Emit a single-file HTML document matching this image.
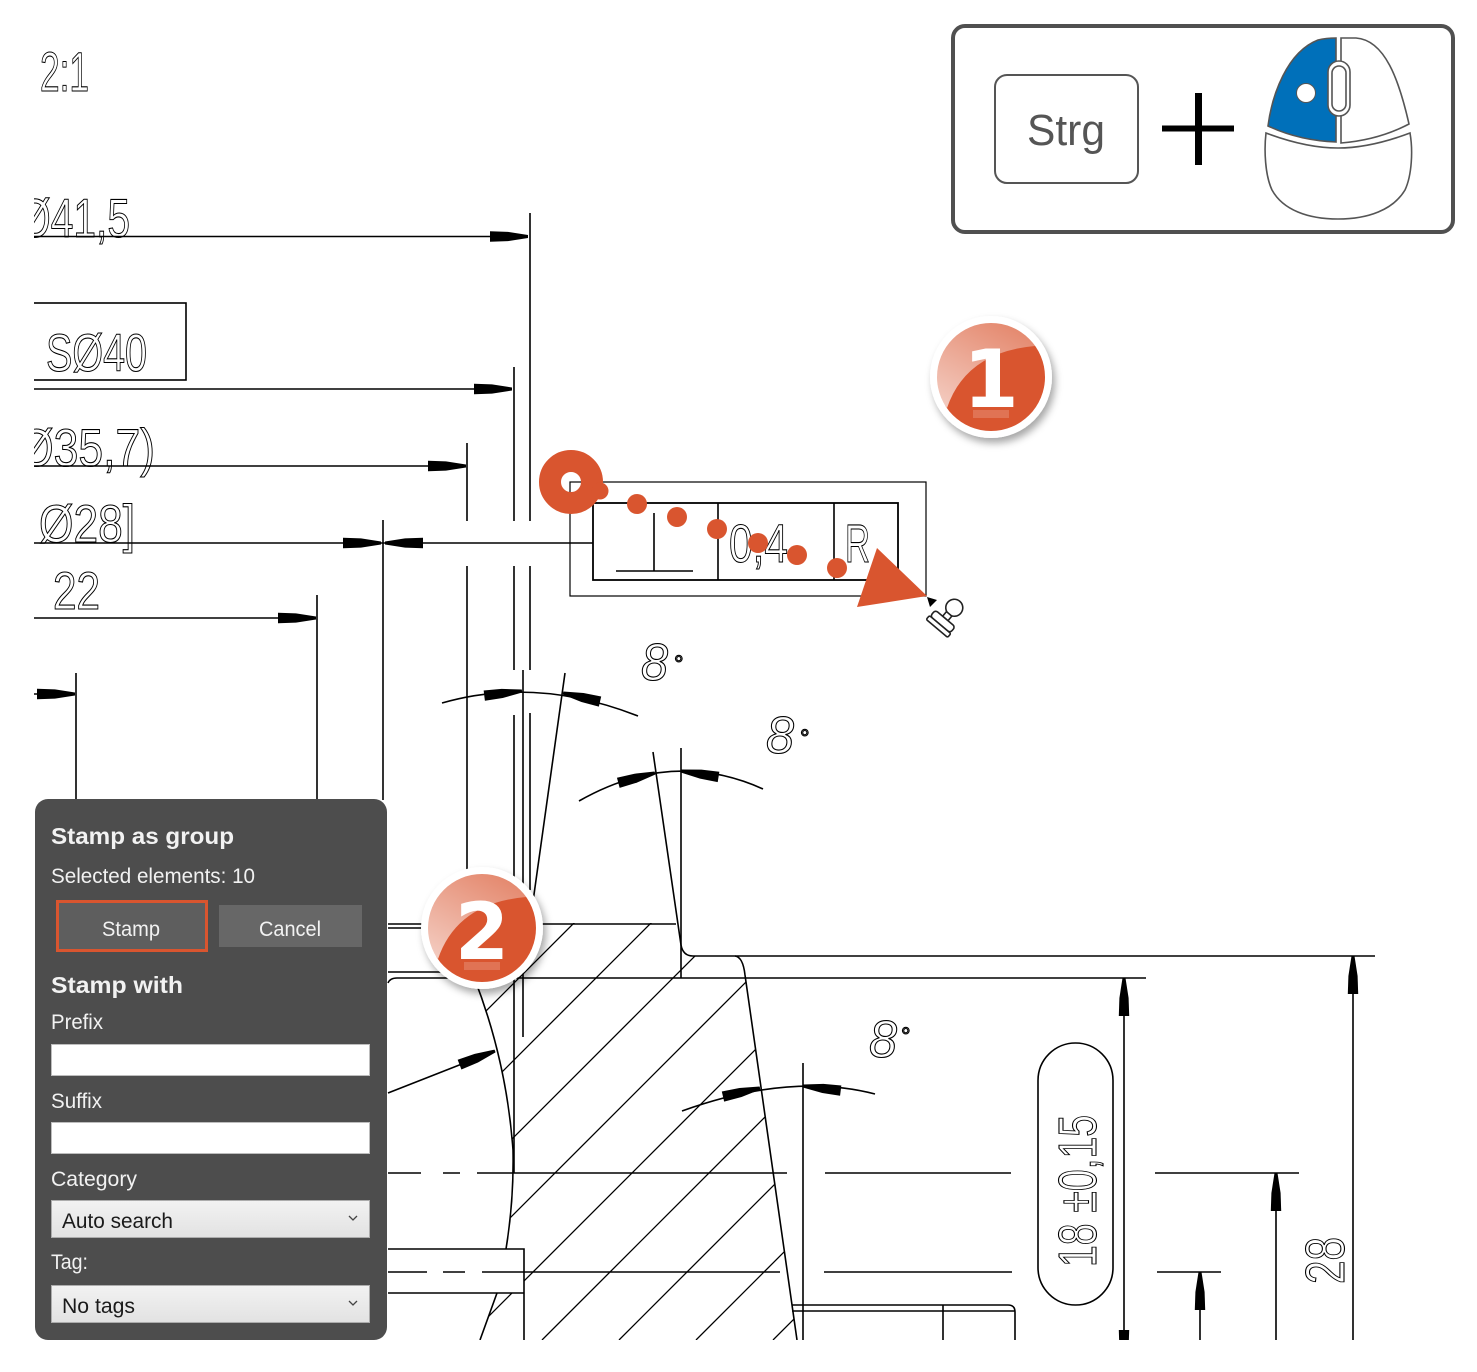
<!DOCTYPE html>
<html><head><meta charset="utf-8">
<style>
html,body{margin:0;padding:0;background:#fff;}
svg{display:block;}
.cad{font-family:"Liberation Sans Narrow","Liberation Sans",sans-serif;fill:none;stroke:#000;stroke-width:1.1;}
.ui{font-family:"Liberation Sans",sans-serif;fill:#f2f2f2;}
.dd{font-family:"Liberation Sans",sans-serif;fill:#1a1a1a;}
</style></head><body>
<svg width="1477" height="1372" viewBox="0 0 1477 1372" xmlns="http://www.w3.org/2000/svg">
<defs>
<polygon id="ah" points="0,-1.5 0,1.5 -20,4.6 -38,5.2 -38,-5.2 -20,-4.6" fill="#000"/>
<clipPath id="dc"><rect x="34" y="0" width="1443" height="1340"/></clipPath>
<clipPath id="hc"><path d="M452,923 L676,923 L681,945 Q683,956 693,956 L740,956 L745,978 L797,1340 L480,1340 L497,1293 L524,1293 L524,1249 L506,1249 Q514,1200 513,1150 Q505,1040 458,940 Z"/></clipPath>
<filter id="sh" x="-40%" y="-40%" width="180%" height="180%"><feDropShadow dx="3" dy="5" stdDeviation="4" flood-color="#000" flood-opacity="0.35"/></filter>
<linearGradient id="gl" x1="0.7" y1="0" x2="0.1" y2="1"><stop offset="0" stop-color="#fff" stop-opacity="0.3"/><stop offset="1" stop-color="#fff" stop-opacity="0.7"/></linearGradient>
<linearGradient id="ddg" x1="0" y1="0" x2="0" y2="1"><stop offset="0" stop-color="#f2f2f2"/><stop offset="1" stop-color="#e2e2e2"/></linearGradient>
</defs>

<g clip-path="url(#dc)">
<g clip-path="url(#hc)" stroke="#000" stroke-width="1.3" fill="none">
<path d="M80,1340L520,900 M157,1340L597,900 M234,1340L674,900 M311,1340L751,900 M388,1340L828,900 M465,1340L905,900 M542,1340L982,900 M619,1340L1059,900 M696,1340L1136,900 M773,1340L1213,900"/>
</g>
<g stroke="#000" stroke-width="1.6" fill="none">
<path d="M30,236.5H528 M530,213V521 M530,566V670 M530,713V890"/>
<path d="M30,389H512 M514,367V521 M514,566V670 M514,715V1173"/>
<path d="M30,466H466 M467,443V521 M467,566V880"/>
<path d="M30,543H593"/>
<path d="M383,520V800"/>
<path d="M30,618H316 M317,595V800"/>
<path d="M30,694H75 M76,673V800"/>
<path d="M523,670V1037"/>
<rect x="30" y="303" width="156" height="77"/>
<path d="M442,703 Q536,676 638,716"/>
<path d="M565,673 L530,923"/>
<path d="M579,801 Q672,748 763,789"/>
<path d="M653,752 L681,945 Q683,956 693,956 H1375"/>
<path d="M681,748V978"/>
<path d="M682,1111 Q790,1072 875,1094"/>
<path d="M388,924H676 M388,928H450 M388,972H445 M388,983 Q390,978 397,978 H1146"/>
<path d="M735,956 Q743,957 745,975 L797,1340"/>
<path d="M458,940 Q505,1040 513,1150 Q514,1200 506,1249 M497,1293 L480,1340"/>
<path d="M388,1093 L495,1051"/>
<path d="M388,1173H421 M443,1173H460 M477,1173H787 M825,1173H1011 M1155,1173H1299"/>
<path d="M388,1272H427 M443,1272H465 M482,1272H780 M824,1272H1012 M1157,1272H1221"/>
<path d="M388,1249H524V1340 M388,1293H524"/>
<path d="M1124,978V1340 M1353,956V1340 M1276,1173V1340 M1200,1272V1340 M803,1063V1340"/>
<path d="M792,1305H1008 Q1015,1305 1015,1312 V1340 M792,1311H1015 M943,1305V1340"/>
<rect x="1038" y="1043" width="75" height="262" rx="37.5"/>
<rect x="570" y="482" width="356" height="114" stroke-width="1.2"/>
<rect x="593" y="503" width="305" height="77" stroke-width="1.8"/>
<path d="M718,503V580 M834,503V580"/>
<path d="M616,571H693 M654,513V571"/>
</g>
<use href="#ah" transform="translate(528,236.5)"/>
<use href="#ah" transform="translate(512,389)"/>
<use href="#ah" transform="translate(466,466)"/>
<use href="#ah" transform="translate(381,543)"/>
<use href="#ah" transform="translate(385,543) rotate(180)"/>
<use href="#ah" transform="translate(316,618)"/>
<use href="#ah" transform="translate(75,694)"/>
<use href="#ah" transform="translate(522,691) rotate(-7)"/>
<use href="#ah" transform="translate(563,693) rotate(193)"/>
<use href="#ah" transform="translate(655,773) rotate(-15)"/>
<use href="#ah" transform="translate(681,771) rotate(189)"/>
<use href="#ah" transform="translate(760,1088) rotate(-13)"/>
<use href="#ah" transform="translate(803,1086) rotate(187)"/>
<use href="#ah" transform="translate(495,1051) rotate(-21)"/>
<use href="#ah" transform="translate(1124,978) rotate(-90)"/>
<use href="#ah" transform="translate(1353,956) rotate(-90)"/>
<use href="#ah" transform="translate(1276,1173) rotate(-90)"/>
<use href="#ah" transform="translate(1200,1272) rotate(-90)"/>
<use href="#ah" transform="translate(1124,1368) rotate(90)"/>

<text class="cad" x="40" y="91" font-size="56" textLength="49" lengthAdjust="spacingAndGlyphs">2:1</text>
<text class="cad" x="19" y="237" font-size="55" textLength="111" lengthAdjust="spacingAndGlyphs">Ø41,5</text>
<text class="cad" x="46" y="371" font-size="53" textLength="101" lengthAdjust="spacingAndGlyphs">SØ40</text>
<text class="cad" x="19" y="466" font-size="53" textLength="136" lengthAdjust="spacingAndGlyphs">Ø35,7)</text>
<text class="cad" x="39" y="542" font-size="53" textLength="96" lengthAdjust="spacingAndGlyphs">Ø28]</text>
<text class="cad" x="53" y="609" font-size="53" textLength="47" lengthAdjust="spacingAndGlyphs">22</text>
<text class="cad" x="729" y="562" font-size="54" textLength="59" lengthAdjust="spacingAndGlyphs">0,4</text>
<text class="cad" x="845" y="562" font-size="54" textLength="25" lengthAdjust="spacingAndGlyphs">R</text>
<text class="cad" x="641" y="680" font-size="52" font-style="italic" textLength="27" lengthAdjust="spacingAndGlyphs">8</text>
<text class="cad" x="674" y="672" font-size="24">°</text>
<text class="cad" x="766" y="753" font-size="52" font-style="italic" textLength="28" lengthAdjust="spacingAndGlyphs">8</text>
<text class="cad" x="800" y="746" font-size="24">°</text>
<text class="cad" x="869" y="1057" font-size="52" font-style="italic" textLength="28" lengthAdjust="spacingAndGlyphs">8</text>
<text class="cad" x="901" y="1044" font-size="24">°</text>
<text class="cad" transform="translate(1096,1267) rotate(-90)" font-size="54" textLength="152" lengthAdjust="spacingAndGlyphs">18 ±0,15</text>
<text class="cad" transform="translate(1344,1284) rotate(-90)" font-size="55" textLength="47" lengthAdjust="spacingAndGlyphs">28</text>
</g>

<g fill="#D9552F">
<circle cx="571" cy="482" r="21" fill="none" stroke="#D9552F" stroke-width="22"/>
<circle cx="600" cy="491" r="8.5"/>
<circle cx="637" cy="504" r="10"/>
<circle cx="677" cy="517" r="10"/>
<circle cx="717" cy="529" r="10"/>
<circle cx="758" cy="543" r="10"/>
<circle cx="797" cy="555" r="10"/>
<circle cx="837" cy="568" r="10"/>
<polygon points="877,548 927,596 857,607"/>
</g>
<polygon points="927,597 937,600 930,607" fill="#000"/>
<g transform="translate(944,620) rotate(40)" fill="#fff" stroke="#222" stroke-width="1.6">
<circle cx="0" cy="-16" r="8.5"/>
<rect x="-3.5" y="-8" width="7" height="6"/>
<rect x="-13" y="-2" width="26" height="8" rx="3"/>
<rect x="-14" y="6" width="28" height="5" rx="1.5"/>
</g>

<rect x="953" y="26" width="500" height="206" rx="12" fill="#fff" stroke="#505050" stroke-width="4"/>
<rect x="995" y="75" width="143" height="108" rx="12" fill="#fff" stroke="#555" stroke-width="2"/>
<text x="1066" y="145" font-size="44" text-anchor="middle" fill="#555" font-family="Liberation Sans, sans-serif" textLength="78" lengthAdjust="spacingAndGlyphs">Strg</text>
<rect x="1162" y="125.5" width="72" height="6" fill="#000"/>
<rect x="1195" y="93" width="7" height="72" fill="#000"/>
<g stroke="#555" stroke-width="1.6">
<path d="M1268,126 C1272,95 1287,52 1318,40 Q1326,38 1336,38 L1336,142 C1310,141 1287,135 1268,126 Z" fill="#0070BA"/>
<path d="M1341,38 L1356,38 C1385,40 1399,80 1409,124 C1390,134 1366,141 1341,143 Z" fill="#fff"/>
<path d="M1266,133 C1290,142 1315,148 1338,148 C1362,148 1386,142 1410,133 C1413,150 1412,175 1405,190 C1393,210 1368,219 1338,219 C1308,219 1283,210 1272,190 C1265,175 1264,150 1266,133 Z" fill="#fff"/>
<rect x="1328" y="61" width="22" height="55" rx="11" fill="#fff"/>
<rect x="1332" y="66" width="14" height="45" rx="7" fill="none"/>
<circle cx="1306" cy="93" r="9.5" fill="#fff" stroke-width="1"/>
</g>

<g transform="translate(991,377)">
<circle r="61" fill="#fff" filter="url(#sh)"/>
<circle r="54" fill="#D9552F"/>
<path d="M-44,31 A54,54 0 1 1 44,-31 Q-25,-25 -44,31 Z" fill="url(#gl)"/>
<text x="0" y="30" font-size="80" font-weight="bold" text-anchor="middle" fill="#fff" font-family="DejaVu Sans, sans-serif">1</text>
<rect x="-18" y="33" width="36" height="8" fill="#fff" opacity="0.18"/>
</g>
<g transform="translate(482,928)">
<circle r="61" fill="#fff" filter="url(#sh)"/>
<circle r="54" fill="#D9552F"/>
<path d="M-44,31 A54,54 0 1 1 44,-31 Q-25,-25 -44,31 Z" fill="url(#gl)"/>
<text x="0" y="31" font-size="78" font-weight="bold" text-anchor="middle" fill="#fff" font-family="DejaVu Sans, sans-serif">2</text>
<rect x="-18" y="34" width="36" height="8" fill="#fff" opacity="0.18"/>
</g>

<rect x="35" y="799" width="352" height="541" rx="13" fill="#4D4D4D"/>
<text class="ui" x="51" y="844" font-size="23" font-weight="bold" textLength="183" lengthAdjust="spacingAndGlyphs">Stamp as group</text>
<text class="ui" x="51" y="883" font-size="21" textLength="204" lengthAdjust="spacingAndGlyphs">Selected elements: 10</text>
<rect x="57.5" y="901.5" width="149" height="49" fill="#5e5e5e" stroke="#D9552F" stroke-width="3"/>
<text class="ui" x="131" y="936" font-size="21" text-anchor="middle" textLength="58" lengthAdjust="spacingAndGlyphs">Stamp</text>
<rect x="219" y="905" width="143" height="42" fill="#676767"/>
<text class="ui" x="290" y="936" font-size="21" text-anchor="middle" textLength="62" lengthAdjust="spacingAndGlyphs">Cancel</text>
<text class="ui" x="51" y="993" font-size="23" font-weight="bold" textLength="132" lengthAdjust="spacingAndGlyphs">Stamp with</text>
<text class="ui" x="51" y="1029" font-size="21" textLength="52" lengthAdjust="spacingAndGlyphs">Prefix</text>
<rect x="51.5" y="1044.5" width="318" height="31" fill="#fff" stroke="#bdbdbd"/>
<text class="ui" x="51" y="1108" font-size="21" textLength="51" lengthAdjust="spacingAndGlyphs">Suffix</text>
<rect x="51.5" y="1122.5" width="318" height="31" fill="#fff" stroke="#bdbdbd"/>
<text class="ui" x="51" y="1186" font-size="21" textLength="86" lengthAdjust="spacingAndGlyphs">Category</text>
<rect x="51.5" y="1200.5" width="318" height="37" fill="url(#ddg)" stroke="#acacac"/>
<text class="dd" x="62" y="1228" font-size="21" textLength="111" lengthAdjust="spacingAndGlyphs">Auto search</text>
<polyline points="349,1216 353,1220 357,1216" fill="none" stroke="#444" stroke-width="1.3"/>
<text class="ui" x="51" y="1269" font-size="21" textLength="37" lengthAdjust="spacingAndGlyphs">Tag:</text>
<rect x="51.5" y="1285.5" width="318" height="37" fill="url(#ddg)" stroke="#acacac"/>
<text class="dd" x="62" y="1313" font-size="21" textLength="73" lengthAdjust="spacingAndGlyphs">No tags</text>
<polyline points="349,1301 353,1305 357,1301" fill="none" stroke="#444" stroke-width="1.3"/>
</svg>
</body></html>
